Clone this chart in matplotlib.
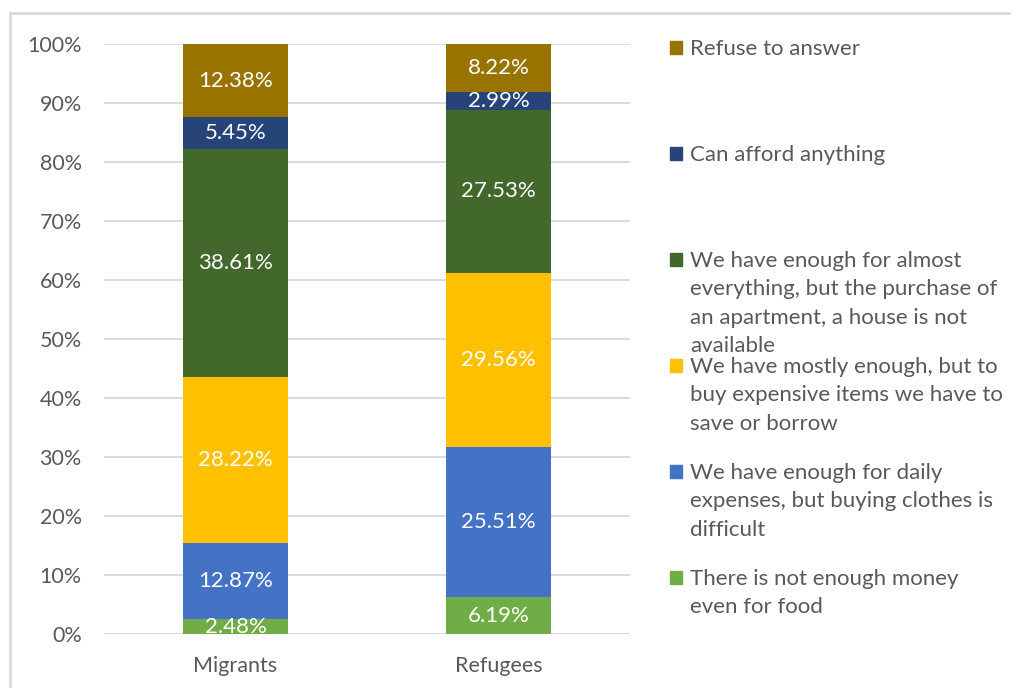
import numpy as np
import matplotlib.pyplot as plt
from matplotlib.patches import Rectangle

plt.rcParams['font.family'] = ['Lato', 'DejaVu Sans']

groups = ['Migrants', 'Refugees']
labels = [
    'There is not enough money\neven for food',
    'We have enough for daily\nexpenses, but buying clothes is\ndifficult',
    'We have mostly enough, but to\nbuy expensive items we have to\nsave or borrow',
    'We have enough for almost\neverything, but the purchase of\nan apartment, a house is not\navailable',
    'Can afford anything',
    'Refuse to answer',
]
migrants = [2.48, 12.87, 28.22, 38.61, 5.45, 12.38]
refugees = [6.19, 25.51, 29.56, 27.53, 2.99, 8.22]
colors = ['#70AD47', '#4472C4', '#FFC000', '#43682B', '#264478', '#997300']

grey = '#595959'

fig = plt.figure(figsize=(10.11, 6.88), dpi=100)
ax = fig.add_axes([104 / 1011, 1 - 634 / 688, 526 / 1011, 590 / 688])

# outer frame (only top and left edges fall inside the canvas)
fig.add_artist(Rectangle((10 / 1011, -0.1), 1.2, 1 - 13 / 688 + 0.1,
                         transform=fig.transFigure, fill=False,
                         edgecolor='#D9D9D9', linewidth=2))

data = np.array([migrants, refugees]).T
totals = data.sum(axis=0)
shares = data / totals * 100
x = np.arange(len(groups))
bottom = np.zeros(len(groups))
for vals, pct, col in zip(data, shares, colors):
    ax.bar(x, pct, 0.4, bottom=bottom, color=col, zorder=3)
    for xi, b, p, v in zip(x, bottom, pct, vals):
        ax.text(xi, b + p / 2, f'{v:.2f}%', ha='center', va='center',
                color='white', fontsize=16, zorder=4)
    bottom += pct

ax.set_xlim(-0.5, 1.5)
ax.set_ylim(0, 100)
ax.set_yticks(np.arange(0, 101, 10))
ax.set_yticklabels([f'{t}%' for t in range(0, 101, 10)])
ax.set_xticks(x)
ax.set_xticklabels(groups)
ax.yaxis.grid(True, color='#D9D9D9', linewidth=1.3, zorder=0)
for s in ax.spines.values():
    s.set_visible(False)
ax.tick_params(axis='both', length=0, colors=grey, labelsize=15.5)
ax.tick_params(axis='y', pad=16)
ax.tick_params(axis='x', pad=16)
ax.axhline(0, color='#D9D9D9', linewidth=1.3, zorder=2)

# legend, top entry first
for i, (lab, col) in enumerate(zip(labels[::-1], colors[::-1])):
    ytop = 1 - (48 + 106 * i) / 688
    fig.add_artist(Rectangle((670 / 1011, ytop - 6 / 688), 12 / 1011, 13 / 688,
                             transform=fig.transFigure, color=col))
    fig.text(690 / 1011, ytop + 9 / 688, lab, ha='left', va='top',
             color=grey, fontsize=16, linespacing=1.53)

fig.savefig('out.png', dpi=100)
